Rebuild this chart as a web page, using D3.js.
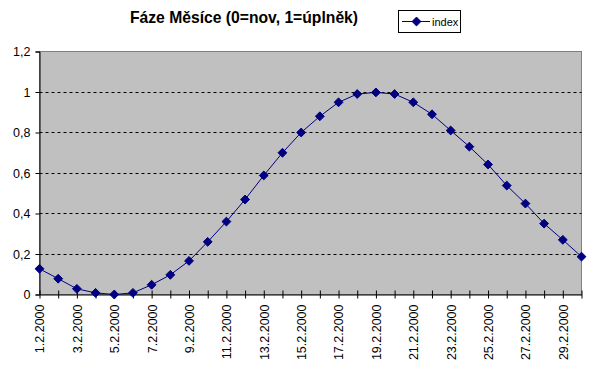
<!DOCTYPE html>
<html><head><meta charset="utf-8">
<script src="https://cdn.jsdelivr.net/npm/d3@7"></script>
<style>body{margin:0;background:#fff}svg{display:block;font-family:Arial,"Liberation Sans",sans-serif}</style>
</head><body><svg id="c" width="599" height="371"></svg>
<script>
const title = "Fáze Měsíce (0=nov, 1=úplněk)";
const seriesName = "index";
const dates = ["1.2.2000","2.2.2000","3.2.2000","4.2.2000","5.2.2000","6.2.2000","7.2.2000","8.2.2000","9.2.2000","10.2.2000","11.2.2000","12.2.2000","13.2.2000","14.2.2000","15.2.2000","16.2.2000","17.2.2000","18.2.2000","19.2.2000","20.2.2000","21.2.2000","22.2.2000","23.2.2000","24.2.2000","25.2.2000","26.2.2000","27.2.2000","28.2.2000","29.2.2000","1.3.2000"];
const values = [0.127,0.078,0.028,0.008,0.0,0.008,0.048,0.097,0.166,0.26,0.36,0.469,0.588,0.70,0.80,0.88,0.949,0.99,0.998,0.99,0.949,0.89,0.81,0.73,0.642,0.538,0.449,0.35,0.27,0.187];
const yTicks = [0,0.2,0.4,0.6,0.8,1,1.2];

const svg = d3.select("#c");
const L = 39.5, R = 581.5, T = 51.5, B = 294.5;
const x = d3.scalePoint().domain(dates).range([L, R]);
const y = d3.scaleLinear().domain([0, 1.2]).range([B, T]);

svg.append("rect").attr("x", L).attr("y", T).attr("width", R - L).attr("height", B - T)
  .attr("fill", "#c0c0c0").attr("stroke", "#808080").attr("stroke-width", 1);

svg.append("g").selectAll("line").data(yTicks.filter(v => v > 0 && v < 1.2)).join("line")
  .attr("x1", L).attr("x2", R).attr("y1", d => Math.round(y(d)) + 0.5).attr("y2", d => Math.round(y(d)) + 0.5)
  .attr("stroke", "#000").attr("stroke-dasharray", "3,3");

const fmt = d => String(d).replace(".", ",");
const ya = svg.append("g").attr("transform", `translate(${L},0)`)
  .call(d3.axisLeft(y).tickValues(yTicks).tickFormat(fmt).tickSize(4).tickPadding(5));
ya.selectAll("text").attr("font-size", 12.5).attr("fill", "#000").attr("font-family", "Arial, 'Liberation Sans', sans-serif");
ya.selectAll("line,path").attr("stroke", "#000");

const xa = svg.append("g").attr("transform", `translate(0,${B})`)
  .call(d3.axisBottom(x).tickSizeInner(4).tickSizeOuter(0).tickFormat((d, i) => i % 2 === 0 && i < dates.length - 1 ? d : ""));
xa.selectAll(".tick line").attr("y1", -4).attr("y2", 4).attr("stroke", "#000");
xa.select("path").attr("stroke", "#000");
xa.selectAll("text").attr("font-size", 12.5).attr("fill", "#000")
  .attr("font-family", "Arial, 'Liberation Sans', sans-serif")
  .attr("transform", "rotate(-90)").attr("text-anchor", "end")
  .attr("x", -10).attr("y", 0).attr("dy", "0.35em");

const line = d3.line().x((d, i) => x(dates[i])).y(d => y(d));
svg.append("path").datum(values).attr("d", line).attr("fill", "none").attr("stroke", "#000080").attr("stroke-width", 1);

const diamond = d3.symbol().type(d3.symbolDiamond2).size(50);
svg.append("g").selectAll("path").data(values).join("path")
  .attr("d", diamond).attr("transform", (d, i) => `translate(${x(dates[i])},${y(d)})`)
  .attr("fill", "#000080").attr("stroke", "#000080");

svg.append("text").attr("x", 244).attr("y", 23).attr("text-anchor", "middle")
  .attr("font-size", 15.7).attr("font-weight", "bold").text(title);

const lg = svg.append("g");
lg.append("rect").attr("x", 398.5).attr("y", 10.5).attr("width", 62).attr("height", 22)
  .attr("fill", "#fff").attr("stroke", "#000");
lg.append("line").attr("x1", 402).attr("x2", 430).attr("y1", 21.5).attr("y2", 21.5).attr("stroke", "#000080");
lg.append("path").attr("d", diamond).attr("transform", "translate(416.5,21.5)").attr("fill", "#000080").attr("stroke", "#000080");
lg.append("text").attr("x", 432).attr("y", 25.5).attr("font-size", 11).text(seriesName);
</script></body></html>
